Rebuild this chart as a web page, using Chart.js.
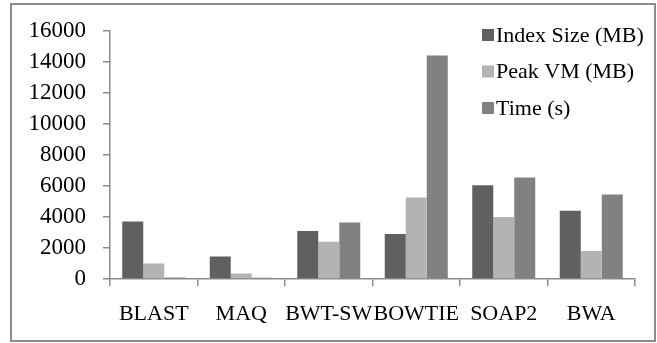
<!DOCTYPE html>
<html>
<head>
<meta charset="utf-8">
<script src="https://cdn.jsdelivr.net/npm/chart.js@4/dist/chart.umd.min.js"></script>
<style>
  html, body { margin: 0; padding: 0; background: #fff; }
  #wrap { position: relative; width: 657px; height: 343px; }
</style>
</head>
<body>
<div id="wrap"><canvas id="chart"></canvas></div>
<script>
// data
const categories = ['BLAST', 'MAQ', 'BWT-SW', 'BOWTIE', 'SOAP2', 'BWA'];
const indexSize = [3700, 1450, 3100, 2900, 6050, 4400];
const peakVM = [1000, 350, 2400, 5250, 4000, 1800];
const timeSec = [100, 80, 3650, 14400, 6550, 5450];
const seriesNames = ['Index Size (MB)', 'Peak VM (MB)', 'Time (s)'];
const seriesColors = ['#606060', '#b3b3b3', '#818181'];

const FONT = 'Liberation Serif, Times New Roman, serif';

// outer frame round the whole picture
const framePlugin = {
  id: 'frame',
  beforeDraw(chart) {
    const ctx = chart.ctx;
    ctx.save();
    ctx.fillStyle = '#fff';
    ctx.fillRect(0, 0, chart.width, chart.height);
    ctx.strokeStyle = '#8c8c8c';
    ctx.lineWidth = 2;
    ctx.strokeRect(11, 4, 644, 337);
    ctx.restore();
  }
};

// legend in the top right corner, drawn over the plot
const legendPlugin = {
  id: 'cornerLegend',
  afterDraw(chart) {
    const ctx = chart.ctx;
    ctx.save();
    ctx.font = '22px ' + FONT;
    ctx.textBaseline = 'middle';
    chart.data.datasets.forEach((ds, i) => {
      const y = 35 + i * 36.5;
      ctx.fillStyle = ds.backgroundColor;
      ctx.fillRect(482, y - 6, 12, 12);
      ctx.fillStyle = '#000';
      ctx.fillText(ds.label, 496, y + 1);
    });
    ctx.restore();
  }
};

new Chart(document.getElementById('chart'), {
  type: 'bar',
  data: {
    labels: categories,
    datasets: [indexSize, peakVM, timeSec].map((values, i) => ({
      label: seriesNames[i],
      data: values,
      backgroundColor: seriesColors[i],
      borderWidth: 0
    }))
  },
  options: {
    responsive: true,
    maintainAspectRatio: false,
    animation: false,
    categoryPercentage: 0.72,
    barPercentage: 1.0,
    layout: { padding: { left: 0, right: 22, top: 25, bottom: 0 } },
    plugins: {
      legend: { display: false },
      tooltip: { enabled: false }
    },
    scales: {
      x: {
        grid: {
          display: true,
          drawOnChartArea: false,
          drawTicks: true,
          tickLength: 7,
          color: '#8c8c8c',
          lineWidth: 1.5
        },
        border: { color: '#8c8c8c', width: 1.5 },
        ticks: {
          color: '#000',
          font: { family: FONT, size: 22 },
          padding: 15,
          maxRotation: 0,
          autoSkip: false
        },
        afterFit(scale) { scale.height = 64; }
      },
      y: {
        min: 0,
        max: 16000,
        grid: {
          display: true,
          drawOnChartArea: false,
          drawTicks: true,
          tickLength: 7,
          color: '#8c8c8c',
          lineWidth: 1.5
        },
        border: { color: '#8c8c8c', width: 1.5 },
        ticks: {
          stepSize: 2000,
          color: '#000',
          font: { family: FONT, size: 23 },
          padding: 17,
          callback: (v) => String(v)
        },
        afterFit(scale) { scale.width = 110; }
      }
    }
  },
  plugins: [framePlugin, legendPlugin]
});
</script>
</body>
</html>
